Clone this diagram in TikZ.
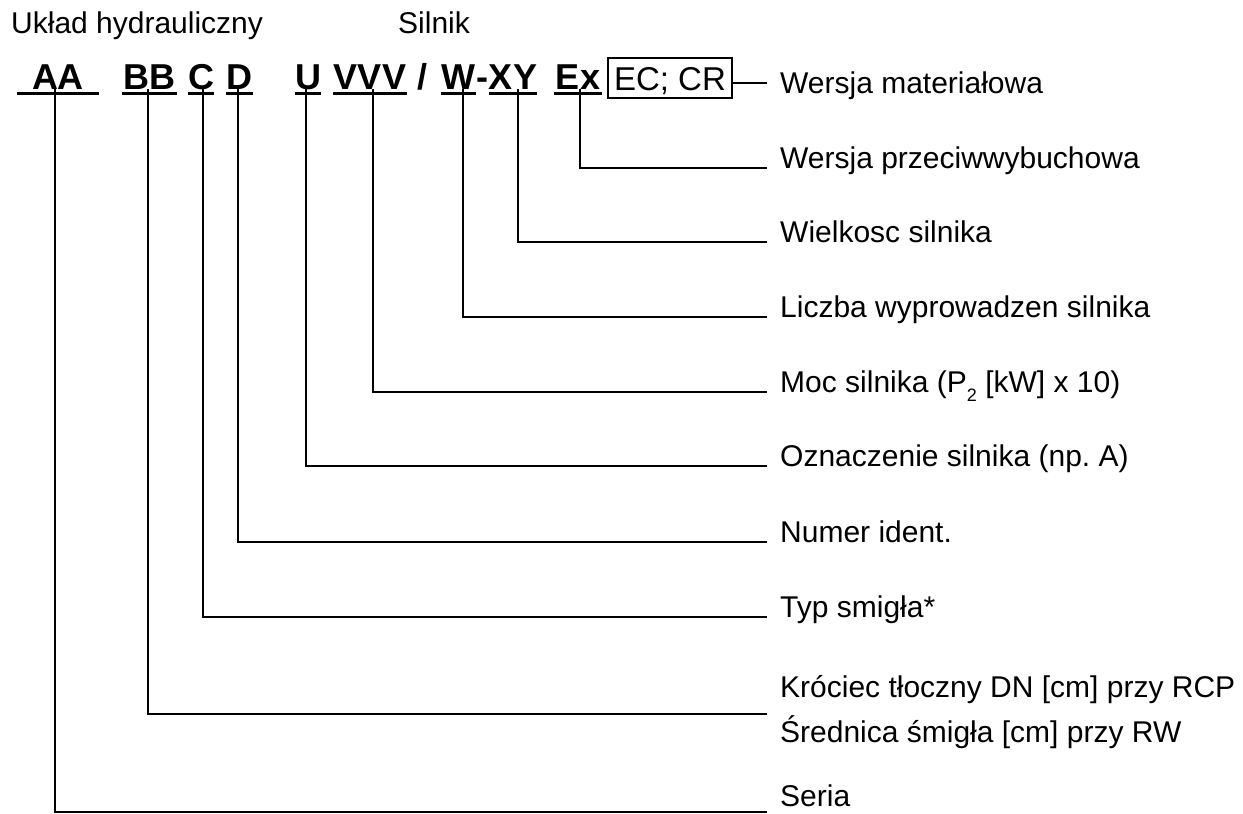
\documentclass[tikz,border=0pt]{standalone}
\usepackage{fontspec}
\setmainfont{Liberation Sans}
\frenchspacing
\begin{document}
\begin{tikzpicture}[x=1pt,y=-1pt,
  code/.style={font=\fontsize{36}{40}\selectfont\bfseries, inner sep=0pt, anchor=base},
  lbl/.style={font=\fontsize{30}{34}\selectfont, inner sep=0pt, anchor=base west},
  ln/.style={line width=2pt},
  uline/.style={line width=3pt}]
\useasboundingbox (0,0) rectangle (1243,814);

% header labels
\node[lbl] (uh) at (11,33) {Układ hydrauliczny};
\node[lbl] (sil) at (398,33) {Silnik};

% code parts
\node[code, minimum width=82pt] (aa) at (58,89) {AA};
\node[code, minimum width=55pt] (bb) at (149.5,89) {BB};
\node[code, minimum width=26pt] (cc) at (201,89) {C};
\node[code, minimum width=25pt] (dd) at (239.5,89) {D};
\node[code, minimum width=26pt] (uu) at (308,89) {U};
\node[code, minimum width=74pt] (vv) at (370,89) {VVV};
\node[code] (sl) at (422,89) {/};
\node[code, minimum width=35pt] (ww) at (458.5,89) {W};
\node[code] (hy) at (482.5,89) {-};
\node[code, minimum width=48pt] (xy) at (513,89) {XY};
\node[code, minimum width=48pt] (ex) at (578,89) {Ex};
\node[draw, line width=1.5pt, inner sep=0pt, minimum width=124pt,
      text height=32pt, text depth=8pt, anchor=base,
      font=\fontsize{33}{36}\selectfont] (box) at (670,90) {EC; CR};

% underlines
\foreach \n in {aa,bb,cc,dd,uu,vv,ww,xy,ex}
  \draw[uline] ([yshift=-4.5pt]\n.base west) -- ([yshift=-4.5pt]\n.base east);

% line ends
\coordinate (e1) at (767,83);
\coordinate (e2) at (767,168);
\coordinate (e3) at (767,242);
\coordinate (e4) at (767,317);
\coordinate (e5) at (767,392);
\coordinate (e6) at (767,466);
\coordinate (e7) at (767,542);
\coordinate (e8) at (767,617);
\coordinate (e9) at (767,714);
\coordinate (e10) at (767,812);

% labels
\node[lbl] (l1) at (780,93) {Wersja materiałowa};
\node[lbl] (l2) at (780,168) {Wersja przeciwwybuchowa};
\node[lbl] (l3) at (780,242) {Wielkosc silnika};
\node[lbl] (l4) at (780,317) {Liczba wyprowadzen silnika};
\node[lbl] (l5) at (780,392) {Moc silnika (P\raisebox{-0.32em}{\fontsize{18}{20}\selectfont 2} [kW] x 10)};
\node[lbl] (l6) at (780,466) {Oznaczenie silnika (np. A)};
\node[lbl] (l7) at (780,542) {Numer ident.};
\node[lbl] (l8) at (780,617) {Typ smigła*};
\node[lbl] (l9a) at (780,697) {Króciec tłoczny DN [cm] przy RCP};
\node[lbl] (l9b) at (780,742) {Średnica śmigła [cm] przy RW};
\node[lbl] (l10) at (780,806) {Seria};

% connectors
\draw[ln] (box.east |- e1) -- (e1);
\draw[ln] ([xshift=2pt]ex.base) |- (e2);
\draw[ln] ([xshift=5pt]xy.base) |- (e3);
\draw[ln] ([xshift=4.5pt]ww.base) |- (e4);
\draw[ln] ([xshift=3pt]vv.base) |- (e5);
\draw[ln] ([xshift=-2pt]uu.base) |- (e6);
\draw[ln] ([xshift=-1.5pt]dd.base) |- (e7);
\draw[ln] ([xshift=2pt]cc.base) |- (e8);
\draw[ln] ([xshift=-1.5pt]bb.base) |- (e9);
\draw[ln] ([xshift=-3pt]aa.base) |- (e10);
\end{tikzpicture}
\end{document}
